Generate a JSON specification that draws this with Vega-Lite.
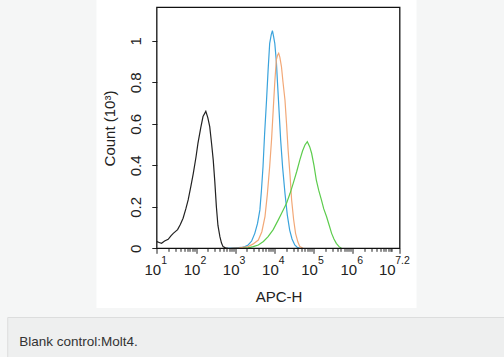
{
  "$schema": "https://vega.github.io/schema/vega-lite/v6.json",
  "background": "#f5f6f6",
  "padding": {"left": 6, "top": 0, "right": 0, "bottom": 0},
  "spacing": 8,
  "center": true,
  "config": {"view": {"stroke": null}, "font": "Liberation Sans"},
  "vconcat": [
    {
      "width": 320,
      "height": 308,
      "view": {"fill": "#ffffff", "stroke": null},
      "layer": [
        {
          "data": {"values": [
            {"series": "Blank control", "apc": 10, "count": 0.032},
            {"series": "Blank control", "apc": 11.5, "count": 0.028},
            {"series": "Blank control", "apc": 13.2, "count": 0.024},
            {"series": "Blank control", "apc": 15.8, "count": 0.035},
            {"series": "Blank control", "apc": 19.5, "count": 0.043},
            {"series": "Blank control", "apc": 22.9, "count": 0.06},
            {"series": "Blank control", "apc": 26.3, "count": 0.072},
            {"series": "Blank control", "apc": 33.9, "count": 0.09},
            {"series": "Blank control", "apc": 39.8, "count": 0.115},
            {"series": "Blank control", "apc": 46.8, "count": 0.145},
            {"series": "Blank control", "apc": 55.0, "count": 0.19},
            {"series": "Blank control", "apc": 63.1, "count": 0.233},
            {"series": "Blank control", "apc": 74.1, "count": 0.30},
            {"series": "Blank control", "apc": 85.1, "count": 0.36},
            {"series": "Blank control", "apc": 100, "count": 0.44},
            {"series": "Blank control", "apc": 112, "count": 0.506},
            {"series": "Blank control", "apc": 132, "count": 0.58},
            {"series": "Blank control", "apc": 151, "count": 0.635},
            {"series": "Blank control", "apc": 178, "count": 0.66},
            {"series": "Blank control", "apc": 200, "count": 0.63},
            {"series": "Blank control", "apc": 224, "count": 0.586},
            {"series": "Blank control", "apc": 251, "count": 0.50},
            {"series": "Blank control", "apc": 275, "count": 0.426},
            {"series": "Blank control", "apc": 302, "count": 0.32},
            {"series": "Blank control", "apc": 331, "count": 0.20},
            {"series": "Blank control", "apc": 363, "count": 0.11},
            {"series": "Blank control", "apc": 407, "count": 0.056},
            {"series": "Blank control", "apc": 447, "count": 0.025},
            {"series": "Blank control", "apc": 490, "count": 0.008},
            {"series": "Blank control", "apc": 562, "count": 0.002},
            {"series": "Blank control", "apc": 661, "count": 0},
            {"series": "Sample 1", "apc": 631, "count": 0},
            {"series": "Sample 1", "apc": 794, "count": 0.001},
            {"series": "Sample 1", "apc": 1000, "count": 0.002},
            {"series": "Sample 1", "apc": 1445, "count": 0.004},
            {"series": "Sample 1", "apc": 1778, "count": 0.008},
            {"series": "Sample 1", "apc": 2138, "count": 0.016},
            {"series": "Sample 1", "apc": 2630, "count": 0.035},
            {"series": "Sample 1", "apc": 3162, "count": 0.072},
            {"series": "Sample 1", "apc": 3715, "count": 0.12},
            {"series": "Sample 1", "apc": 4266, "count": 0.185},
            {"series": "Sample 1", "apc": 4677, "count": 0.28},
            {"series": "Sample 1", "apc": 5129, "count": 0.394},
            {"series": "Sample 1", "apc": 5623, "count": 0.55},
            {"series": "Sample 1", "apc": 6310, "count": 0.715},
            {"series": "Sample 1", "apc": 6918, "count": 0.86},
            {"series": "Sample 1", "apc": 7586, "count": 0.988},
            {"series": "Sample 1", "apc": 8318, "count": 1.03},
            {"series": "Sample 1", "apc": 8913, "count": 1.049},
            {"series": "Sample 1", "apc": 9550, "count": 1.02},
            {"series": "Sample 1", "apc": 10233, "count": 0.988},
            {"series": "Sample 1", "apc": 11220, "count": 0.90},
            {"series": "Sample 1", "apc": 12023, "count": 0.795},
            {"series": "Sample 1", "apc": 13183, "count": 0.66},
            {"series": "Sample 1", "apc": 14454, "count": 0.522},
            {"series": "Sample 1", "apc": 16218, "count": 0.39},
            {"series": "Sample 1", "apc": 18621, "count": 0.265},
            {"series": "Sample 1", "apc": 21380, "count": 0.16},
            {"series": "Sample 1", "apc": 24547, "count": 0.088},
            {"series": "Sample 1", "apc": 28184, "count": 0.045},
            {"series": "Sample 1", "apc": 33113, "count": 0.016},
            {"series": "Sample 1", "apc": 38019, "count": 0.005},
            {"series": "Sample 1", "apc": 44668, "count": 0},
            {"series": "Sample 2", "apc": 794, "count": 0},
            {"series": "Sample 2", "apc": 1259, "count": 0.002},
            {"series": "Sample 2", "apc": 2138, "count": 0.008},
            {"series": "Sample 2", "apc": 2818, "count": 0.02},
            {"series": "Sample 2", "apc": 3890, "count": 0.04},
            {"series": "Sample 2", "apc": 4786, "count": 0.08},
            {"series": "Sample 2", "apc": 5754, "count": 0.153},
            {"series": "Sample 2", "apc": 6607, "count": 0.26},
            {"series": "Sample 2", "apc": 7586, "count": 0.394},
            {"series": "Sample 2", "apc": 8511, "count": 0.53},
            {"series": "Sample 2", "apc": 9333, "count": 0.667},
            {"series": "Sample 2", "apc": 10233, "count": 0.80},
            {"series": "Sample 2", "apc": 11220, "count": 0.908},
            {"series": "Sample 2", "apc": 12023, "count": 0.93},
            {"series": "Sample 2", "apc": 12882, "count": 0.94},
            {"series": "Sample 2", "apc": 13804, "count": 0.92},
            {"series": "Sample 2", "apc": 15136, "count": 0.876},
            {"series": "Sample 2", "apc": 16596, "count": 0.80},
            {"series": "Sample 2", "apc": 18621, "count": 0.715},
            {"series": "Sample 2", "apc": 20417, "count": 0.60},
            {"series": "Sample 2", "apc": 22387, "count": 0.474},
            {"series": "Sample 2", "apc": 25119, "count": 0.35},
            {"series": "Sample 2", "apc": 27542, "count": 0.233},
            {"series": "Sample 2", "apc": 30903, "count": 0.14},
            {"series": "Sample 2", "apc": 34674, "count": 0.072},
            {"series": "Sample 2", "apc": 39811, "count": 0.03},
            {"series": "Sample 2", "apc": 44668, "count": 0.008},
            {"series": "Sample 2", "apc": 53703, "count": 0},
            {"series": "Sample 3", "apc": 1585, "count": 0},
            {"series": "Sample 3", "apc": 2138, "count": 0.002},
            {"series": "Sample 3", "apc": 2884, "count": 0.008},
            {"series": "Sample 3", "apc": 3890, "count": 0.016},
            {"series": "Sample 3", "apc": 5248, "count": 0.033},
            {"series": "Sample 3", "apc": 6918, "count": 0.056},
            {"series": "Sample 3", "apc": 9333, "count": 0.09},
            {"series": "Sample 3", "apc": 12589, "count": 0.137},
            {"series": "Sample 3", "apc": 15849, "count": 0.175},
            {"series": "Sample 3", "apc": 20417, "count": 0.217},
            {"series": "Sample 3", "apc": 25119, "count": 0.265},
            {"series": "Sample 3", "apc": 30200, "count": 0.313},
            {"series": "Sample 3", "apc": 37154, "count": 0.37},
            {"series": "Sample 3", "apc": 44668, "count": 0.426},
            {"series": "Sample 3", "apc": 52481, "count": 0.47},
            {"series": "Sample 3", "apc": 60256, "count": 0.498},
            {"series": "Sample 3", "apc": 69183, "count": 0.514},
            {"series": "Sample 3", "apc": 79433, "count": 0.49},
            {"series": "Sample 3", "apc": 89125, "count": 0.458},
            {"series": "Sample 3", "apc": 102329, "count": 0.40},
            {"series": "Sample 3", "apc": 117490, "count": 0.329},
            {"series": "Sample 3", "apc": 134896, "count": 0.28},
            {"series": "Sample 3", "apc": 158489, "count": 0.233},
            {"series": "Sample 3", "apc": 181970, "count": 0.19},
            {"series": "Sample 3", "apc": 213796, "count": 0.153},
            {"series": "Sample 3", "apc": 251189, "count": 0.11},
            {"series": "Sample 3", "apc": 288403, "count": 0.072},
            {"series": "Sample 3", "apc": 331131, "count": 0.045},
            {"series": "Sample 3", "apc": 380189, "count": 0.024},
            {"series": "Sample 3", "apc": 446684, "count": 0.008},
            {"series": "Sample 3", "apc": 512861, "count": 0}
          ]},
          "mark": {"type": "line", "strokeWidth": 1.2, "interpolate": "linear"},
          "encoding": {
            "x": {
              "field": "apc",
              "type": "quantitative",
              "scale": {"type": "log", "domain": [0.2891, 42270000]},
              "axis": {
                "title": "APC-H",
                "values": [10, 20, 30, 40, 50, 60, 70, 80, 90, 100, 200, 300, 400, 500, 600, 700, 800, 900, 1000, 2000, 3000, 4000, 5000, 6000, 7000, 8000, 9000, 10000, 20000, 30000, 40000, 50000, 60000, 70000, 80000, 90000, 100000, 200000, 300000, 400000, 500000, 600000, 700000, 800000, 900000, 1000000, 2000000, 3000000, 4000000, 5000000, 6000000, 7000000, 8000000, 9000000, 10000000, 15848932],
                "labelExpr": "indexof([10, 100, 1000, 10000, 100000, 1000000, 15848932], datum.value) >= 0 ? '10' : ''",
                "labelOffset": {"condition": {"test": "datum.value == 15848932", "value": -13}, "value": -4.5},
                "tickSize": {"condition": {"test": "indexof([10, 100, 1000, 10000, 100000, 1000000, 15848932], datum.value) >= 0", "value": 5}, "value": 3},
                "offset": -59.7,
                "domain": false,
                "grid": false,
                "tickColor": "#222",
                "labelColor": "#222",
                "labelFontSize": 15,
                "labelPadding": 9,
                "labelFlush": false,
                "labelOverlap": false,
                "labelBound": false,
                "titleFontSize": 15,
                "titleFontWeight": "normal",
                "titleColor": "#222",
                "titleX": 182,
                "titleY": 47.7,
                "titleAlign": "center",
                "titleBaseline": "middle"
              }
            },
            "y": {
              "field": "count",
              "type": "quantitative",
              "scale": {"domain": [-0.2877, 1.1966], "nice": false, "zero": false},
              "axis": {
                "title": "Count (10³)",
                "values": [0, 0.05, 0.1, 0.15, 0.2, 0.25, 0.3, 0.35, 0.4, 0.45, 0.5, 0.55, 0.6, 0.65, 0.7, 0.75, 0.8, 0.85, 0.9, 0.95, 1, 1.05, 1.1, 1.15],
                "labelExpr": "abs(datum.value * 5 - round(datum.value * 5)) < 0.001 ? format(datum.value, '.1~f') : ''",
                "tickSize": {"condition": {"test": "abs(datum.value * 5 - round(datum.value * 5)) < 0.001", "value": 5}, "value": 3},
                "offset": -60.3,
                "domain": false,
                "grid": false,
                "tickColor": "#222",
                "labelColor": "#222",
                "labelFontSize": 15,
                "labelAngle": -90,
                "labelAlign": "center",
                "labelBaseline": "bottom",
                "labelPadding": 8,
                "labelFlush": false,
                "labelOverlap": false,
                "labelBound": false,
                "titleFontSize": 15,
                "titleFontWeight": "normal",
                "titleColor": "#222",
                "titleAngle": -90,
                "titleX": -47,
                "titleY": 128,
                "titleAlign": "center",
                "titleBaseline": "middle"
              }
            },
            "color": {
              "field": "series",
              "type": "nominal",
              "scale": {"domain": ["Blank control", "Sample 1", "Sample 2", "Sample 3"], "range": ["#222222", "#3aa3dc", "#f2a877", "#5ccc4c"]},
              "legend": null
            }
          }
        },
        {
          "data": {"values": [{"left": 10, "right": 15848932, "bottom": 0, "top": 1.1614}]},
          "mark": {"type": "rect", "fill": "transparent", "stroke": "#111111", "strokeWidth": 1.3},
          "encoding": {
            "x": {"field": "left", "type": "quantitative", "scale": {"type": "log", "domain": [0.2891, 42270000]}},
            "x2": {"field": "right"},
            "y": {"field": "bottom", "type": "quantitative", "scale": {"domain": [-0.2877, 1.1966], "nice": false, "zero": false}},
            "y2": {"field": "top"}
          }
        },
        {
          "data": {"values": [
            {"tick": 10, "exp": "1"},
            {"tick": 100, "exp": "2"},
            {"tick": 1000, "exp": "3"},
            {"tick": 10000, "exp": "4"},
            {"tick": 100000, "exp": "5"},
            {"tick": 1000000, "exp": "6"}
          ]},
          "mark": {"type": "text", "align": "left", "baseline": "alphabetic", "fontSize": 10.5, "color": "#222222", "dx": 4.4},
          "encoding": {
            "x": {"field": "tick", "type": "quantitative", "scale": {"type": "log", "domain": [0.2891, 42270000]}},
            "y": {"datum": -0.0733, "scale": {"domain": [-0.2877, 1.1966], "nice": false, "zero": false}},
            "text": {"field": "exp", "type": "nominal"}
          }
        },
        {
          "data": {"values": [{"tick": 15848932, "exp": "7.2"}]},
          "mark": {"type": "text", "align": "left", "baseline": "alphabetic", "fontSize": 10.5, "color": "#222222", "dx": -4.6},
          "encoding": {
            "x": {"field": "tick", "type": "quantitative", "scale": {"type": "log", "domain": [0.2891, 42270000]}},
            "y": {"datum": -0.0733, "scale": {"domain": [-0.2877, 1.1966], "nice": false, "zero": false}},
            "text": {"field": "exp", "type": "nominal"}
          }
        }
      ]
    },
    {
      "width": 498,
      "height": 41,
      "view": {"fill": "#eeefef", "stroke": "#dcdddd"},
      "data": {"values": [{"caption": "Blank control:Molt4."}]},
      "mark": {"type": "text", "align": "left", "baseline": "middle", "fontSize": 13.5, "color": "#333333", "dx": -237, "dy": 4.5},
      "encoding": {"text": {"field": "caption", "type": "nominal"}}
    }
  ]
}
